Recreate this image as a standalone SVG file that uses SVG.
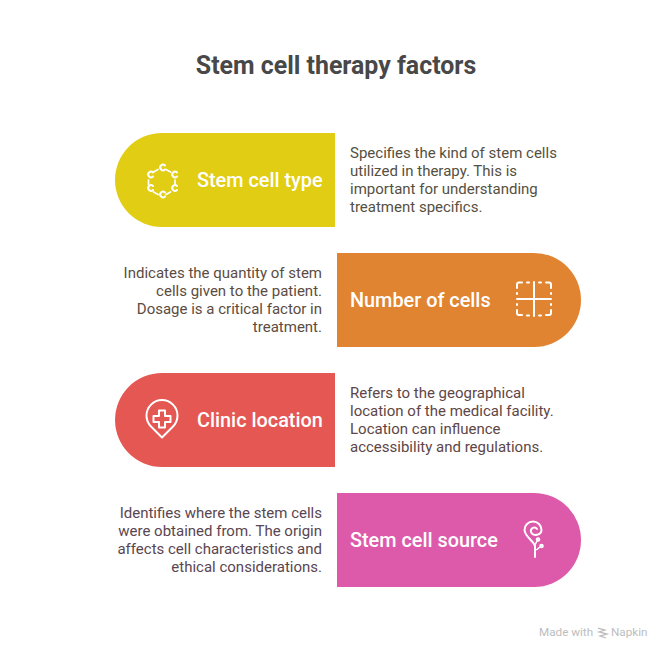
<svg xmlns="http://www.w3.org/2000/svg" width="672" height="660" viewBox="0 0 672 660">
<style>
text{font-family:Roboto,"Liberation Sans",sans-serif}
.title{font-size:24.900px;font-weight:700;fill:#484848}
.label{font-size:19.850px;font-weight:500;fill:#fff}
.d{font-size:15px}
.d1{fill:#55503f}
.d2{fill:#5b4c3f}
.d3{fill:#5e4646}
.d4{fill:#5a4650}
.e{text-anchor:end}
.i{fill:none;stroke:#fff;stroke-width:2;stroke-linecap:round;stroke-linejoin:round}
.w{font-size:11.700px;fill:#bdbdbd}
</style>
<rect width="672" height="660" fill="#fff"/>
<text class="title" x="336" y="74" text-anchor="middle">Stem cell therapy factors</text>
<g id="connectors"></g>
<g id="node-stem-cell-type">
<path d="M335 133H162a47 47 0 0 0 0 94H335Z" fill="#e0cd14"/>
<g class="i">
<path d="M165 165.500a2.800 2.800 0 1 0 0 4M153 172.500a2.800 2.800 0 1 0 0 4M177 172.500a2.800 2.800 0 1 0 0 4M153 186a2.800 2.800 0 1 0 0 4M177 186a2.800 2.800 0 1 0 0 4M165 192.500a2.800 2.800 0 1 0 0 4"/>
<path d="M153.500 172L158 169.500M166 169.500L170.500 172M175 180V184.500M148.500 180V184.500M153.500 192L158 194.500M166 194.500L170.500 192" stroke-width="1.700"/>
</g>
<text class="label" x="197" y="187">Stem cell type</text>
<text class="d d1" x="350" y="158">Specifies the kind of stem cells</text>
<text class="d d1" x="350" y="176">utilized in therapy. This is</text>
<text class="d d1" x="350" y="194">important for understanding</text>
<text class="d d1" x="350" y="212">treatment specifics.</text>
</g>
<g id="node-number-of-cells">
<path d="M337 253H534a47 47 0 0 1 0 94H337Z" fill="#e08431"/>
<g class="i">
<path d="M517 299H551M534 282V316"/>
<path d="M522 282.500H519a2 2 0 0 0-2 2V288M517 293V294M517 304V305M517 310V313a2 2 0 0 0 2 2H522M527 315.500H529M527 282.500H529M539 282.500H541M546 282.500H549a2 2 0 0 1 2 2V288M551 293V294M551 304V305M551 310V313a2 2 0 0 1-2 2H546M539 315.500H541"/>
</g>
<text class="label" x="350" y="307">Number of cells</text>
<text class="d d2 e" x="322" y="278">Indicates the quantity of stem</text>
<text class="d d2 e" x="322" y="296">cells given to the patient.</text>
<text class="d d2 e" x="322" y="314">Dosage is a critical factor in</text>
<text class="d d2 e" x="322" y="332">treatment.</text>
</g>
<g id="node-clinic-location">
<path d="M335 373H162a47 47 0 0 0 0 94H335Z" fill="#e55753"/>
<g class="i">
<path d="M162 437.500L151 426.500A15.500 15.500 0 1 1 173 426.500Z"/>
<path d="M159 410.500H165V416H170.500V422H165V427.500H159V422H153.500V416H159Z"/>
</g>
<text class="label" x="197" y="427">Clinic location</text>
<text class="d d3" x="350" y="398">Refers to the geographical</text>
<text class="d d3" x="350" y="416">location of the medical facility.</text>
<text class="d d3" x="350" y="434">Location can influence</text>
<text class="d d3" x="350" y="452">accessibility and regulations.</text>
</g>
<g id="node-stem-cell-source">
<path d="M337 493H534a47 47 0 0 1 0 94H337Z" fill="#dd59aa"/>
<g class="i">
<path d="M535 557L535 546C533 540 525 537 524.500 530A8.500 8.500 0 0 1 541.500 530C541.500 535 533 537 531 532C530 528 535 526 537 529"/>
<path d="M535 550C537 550 539 548 540 547M535 545L537 541" stroke-width="1.500"/>
<circle cx="538" cy="539.500" r="1.300"/><circle cx="541.500" cy="546" r="1.300"/>
</g>
<text class="label" x="350" y="547">Stem cell source</text>
<text class="d d4 e" x="322" y="518">Identifies where the stem cells</text>
<text class="d d4 e" x="322" y="536">were obtained from. The origin</text>
<text class="d d4 e" x="322" y="554">affects cell characteristics and</text>
<text class="d d4 e" x="322" y="572">ethical considerations.</text>
</g>
<g id="watermark">
<text class="w" x="539" y="636">Made with</text>
<path d="M598 628L605 630L599 632L607 634L600 636L606 638" fill="none" stroke="#bdbdbd" stroke-width="1.300"/>
<text class="w" x="611" y="636">Napkin</text>
</g>
</svg>
